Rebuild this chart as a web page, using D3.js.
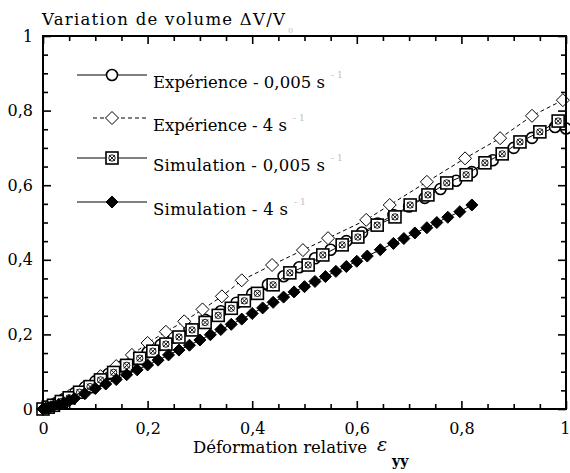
<!DOCTYPE html>
<html>
<head>
<meta charset="utf-8">
<script src="https://cdn.jsdelivr.net/npm/d3@7"></script>
<style>
  html, body { margin: 0; padding: 0; background: #fff; }
  svg text { font-family: "DejaVu Serif", serif; fill: #000; }
  svg text.sup { fill: #bdbdbd; }
</style>
</head>
<body>
<div id="chart"></div>
<script>
// Volume variation vs relative strain, experiment vs simulation at two strain rates.

const majorTicks = [0, 0.2, 0.4, 0.6, 0.8, 1];
const minorTicks = [0.05, 0.1, 0.15, 0.25, 0.3, 0.35, 0.45, 0.5, 0.55, 0.65, 0.7, 0.75, 0.85, 0.9, 0.95];

// Expérience - 0,005 s-1 (open circles)
const expSlowX = [0, 0.01, 0.025, 0.04, 0.06, 0.08, 0.1, 0.125, 0.15, 0.175, 0.2, 0.225, 0.25, 0.28, 0.31, 0.34, 0.37, 0.4, 0.43, 0.46, 0.49, 0.52, 0.55, 0.58, 0.61, 0.64, 0.67, 0.7, 0.73, 0.76, 0.79, 0.82, 0.86, 0.9, 0.935, 0.979, 1.0];
const expSlowY = [0, 0.006, 0.016, 0.027, 0.042, 0.058, 0.074, 0.094, 0.114, 0.133, 0.152, 0.172, 0.192, 0.215, 0.239, 0.262, 0.285, 0.309, 0.333, 0.356, 0.38, 0.404, 0.427, 0.45, 0.473, 0.497, 0.52, 0.543, 0.566, 0.59, 0.612, 0.635, 0.667, 0.7, 0.727, 0.756, 0.752];

// Expérience - 4 s-1 (open diamonds, dashed)
const expFastX = [0, 0.02, 0.05, 0.08, 0.11, 0.14, 0.17, 0.2, 0.235, 0.27, 0.305, 0.342, 0.38, 0.438, 0.497, 0.545, 0.618, 0.663, 0.734, 0.807, 0.874, 0.935, 0.994];
const expFastY = [0, 0.012, 0.035, 0.06, 0.088, 0.115, 0.145, 0.177, 0.207, 0.235, 0.267, 0.302, 0.345, 0.386, 0.426, 0.458, 0.507, 0.547, 0.609, 0.672, 0.726, 0.786, 0.828];

// Simulation - 0,005 s-1 (crossed squares)
const simSlowX = [0, 0.01, 0.02, 0.035, 0.05, 0.07, 0.09, 0.11, 0.135, 0.16, 0.185, 0.21, 0.235, 0.26, 0.285, 0.31, 0.335, 0.36, 0.385, 0.41, 0.44, 0.472, 0.507, 0.535, 0.572, 0.602, 0.639, 0.673, 0.702, 0.736, 0.772, 0.809, 0.845, 0.878, 0.912, 0.95, 0.985];
const simSlowY = [0, 0.005, 0.01, 0.02, 0.03, 0.045, 0.06, 0.078, 0.098, 0.117, 0.136, 0.155, 0.174, 0.193, 0.212, 0.232, 0.251, 0.27, 0.29, 0.31, 0.333, 0.365, 0.386, 0.413, 0.44, 0.461, 0.493, 0.515, 0.547, 0.574, 0.606, 0.628, 0.66, 0.684, 0.716, 0.743, 0.772];

// Simulation - 4 s-1 (filled diamonds)
const simFastX = [0, 0.005, 0.01, 0.015, 0.02, 0.03, 0.04, 0.05, 0.06, 0.08, 0.1, 0.12, 0.14, 0.16, 0.18, 0.2, 0.22, 0.24, 0.26, 0.28, 0.3, 0.32, 0.34, 0.36, 0.38, 0.4, 0.42, 0.44, 0.46, 0.48, 0.5, 0.52, 0.54, 0.56, 0.58, 0.6, 0.62, 0.645, 0.67, 0.69, 0.711, 0.734, 0.753, 0.774, 0.797, 0.82];
const simFastY = [0, 0.002, 0.004, 0.006, 0.008, 0.012, 0.017, 0.022, 0.028, 0.041, 0.055, 0.067, 0.079, 0.092, 0.105, 0.118, 0.131, 0.145, 0.158, 0.171, 0.185, 0.199, 0.213, 0.227, 0.241, 0.256, 0.271, 0.286, 0.3, 0.314, 0.328, 0.342, 0.355, 0.369, 0.382, 0.396, 0.41, 0.427, 0.444, 0.457, 0.472, 0.486, 0.5, 0.514, 0.529, 0.547];

const legendLabels = ["Expérience - 0,005 s", "Expérience - 4 s", "Simulation - 0,005 s", "Simulation - 4 s"];

const W = 570, H = 473;
const M = { left: 43, right: 4, top: 36, bottom: 64 };

const svg = d3.select("#chart").append("svg").attr("width", W).attr("height", H);
const x = d3.scaleLinear().domain([0, 1]).range([M.left, W - M.right]);
const y = d3.scaleLinear().domain([0, 1]).range([H - M.bottom, M.top]);

const fmt = d => d === 0 ? "0" : d === 1 ? "1" : d3.format(".1f")(d).replace(".", ",");
const zip = (xs, ys) => xs.map((v, i) => [v, ys[i]]);

// markers
const diamond = (g, s, fill) => g.append("path")
  .attr("d", `M0,${-s}L${s},0L0,${s}L${-s},0Z`).attr("fill", fill).attr("stroke", "#000").attr("stroke-width", 1);
const markers = {
  circle: g => g.append("circle").attr("r", 5.5).attr("fill", "#fff").attr("stroke", "#000").attr("stroke-width", 1.6),
  open: g => diamond(g, 6.5, "#fff"),
  square: g => {
    g.append("rect").attr("x", -6).attr("y", -6).attr("width", 12).attr("height", 12)
      .attr("fill", "#fff").attr("stroke", "#000").attr("stroke-width", 1.6);
    g.append("circle").attr("r", 3.2).attr("fill", "none").attr("stroke", "#000").attr("stroke-width", 0.9);
    g.append("path").attr("d", "M-3,-3L3,3M-3,3L3,-3").attr("stroke", "#000").attr("stroke-width", 0.9);
  },
  filled: g => diamond(g, 6, "#000")
};

const series = [
  { data: zip(expSlowX, expSlowY), marker: "circle", dash: null },
  { data: zip(expFastX, expFastY), marker: "open", dash: "4 3" },
  { data: zip(simSlowX, simSlowY), marker: "square", dash: null },
  { data: zip(simFastX, simFastY), marker: "filled", dash: null }
];

const plot = svg.append("g");
const line = d3.line().x(d => x(d[0])).y(d => y(d[1]));
series.forEach(s => {
  plot.append("path").datum(s.data).attr("d", line).attr("fill", "none")
    .attr("stroke", "#000").attr("stroke-width", 1).attr("stroke-dasharray", s.dash);
  plot.append("g").selectAll("g").data(s.data).join("g")
    .attr("transform", d => `translate(${x(d[0])},${y(d[1])})`)
    .each(function () { markers[s.marker](d3.select(this)); });
});

// axes: ticks inward on all four sides
const axes = svg.append("g").attr("class", "axes");
const axBottom = axes.append("g").attr("transform", `translate(0,${y(0)})`);
axBottom.call(d3.axisBottom(x).tickValues(majorTicks).tickSize(-8).tickPadding(14).tickFormat(fmt));
axBottom.append("g").call(d3.axisBottom(x).tickValues(minorTicks).tickSize(-5).tickFormat(""));
// last label sits flush against the window edge
axBottom.selectAll(".tick text").filter(d => d === 1).attr("text-anchor", "end").attr("x", 4);
const axTop = axes.append("g").attr("transform", `translate(0,${y(1)})`);
axTop.call(d3.axisTop(x).tickValues(majorTicks).tickSize(-8).tickFormat(""));
axTop.append("g").call(d3.axisTop(x).tickValues(minorTicks).tickSize(-5).tickFormat(""));
const axLeft = axes.append("g").attr("transform", `translate(${x(0)},0)`);
axLeft.call(d3.axisLeft(y).tickValues(majorTicks).tickSize(-8).tickPadding(10).tickFormat(fmt));
axLeft.append("g").call(d3.axisLeft(y).tickValues(minorTicks).tickSize(-5).tickFormat(""));
const axRight = axes.append("g").attr("transform", `translate(${x(1)},0)`);
axRight.call(d3.axisRight(y).tickValues(majorTicks).tickSize(-8).tickFormat(""));
axRight.append("g").call(d3.axisRight(y).tickValues(minorTicks).tickSize(-5).tickFormat(""));

axes.selectAll(".domain").remove();
axes.selectAll("line").attr("stroke", "#000").attr("stroke-width", 1.6);
axes.selectAll("text").attr("font-family", null).attr("font-size", 16);
axes.append("rect").attr("x", x(0)).attr("y", y(1)).attr("width", x(1) - x(0)).attr("height", y(0) - y(1))
  .attr("fill", "none").attr("stroke", "#000").attr("stroke-width", 2);

// text fitted to the reference widths
const wideText = (px, py, str, len, size) => svg.append("text").attr("x", px).attr("y", py)
  .attr("font-size", size).attr("textLength", len).attr("lengthAdjust", "spacing").text(str);
const faint = (px, py, str, size) => svg.append("text").attr("class", "sup")
  .attr("x", px).attr("y", py).attr("font-size", size).text(str);

// legend
const legendRows = [75, 118, 158, 202];
const legendWidths = [172, 134, 172, 135];
legendRows.forEach((ly, i) => {
  const s = series[i];
  svg.append("line").attr("x1", s.dash ? 93 : 77).attr("x2", 147).attr("y1", ly).attr("y2", ly)
    .attr("stroke", "#000").attr("stroke-width", 1).attr("stroke-dasharray", s.dash);
  markers[s.marker](svg.append("g").attr("transform", `translate(112,${ly})`));
  wideText(153, ly + 13, legendLabels[i], legendWidths[i], 16.5);
  faint(153 + legendWidths[i] + 6, ly + 3, "- 1", 9);
});

// title and x label
wideText(42, 25, "Variation de volume \u0394V/V", 243, 16.5);
faint(288, 33, "0", 8);

wideText(193, 453, "Déformation relative", 174, 16.5);
svg.append("text").attr("x", 377).attr("y", 451).attr("font-size", 19).attr("font-style", "italic").text("\u03b5");
svg.append("text").attr("x", 392).attr("y", 466).attr("font-size", 14).attr("font-weight", "bold").text("yy");
</script>
</body>
</html>
